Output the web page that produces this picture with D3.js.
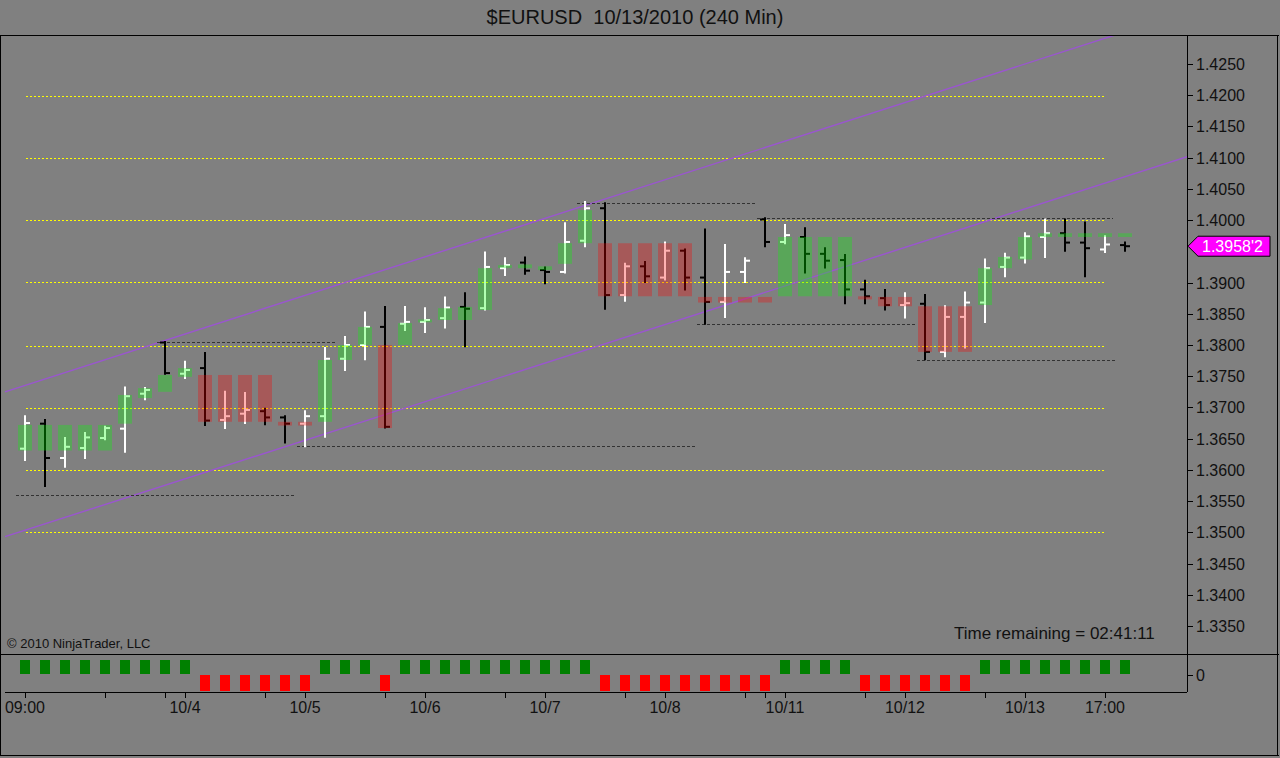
<!DOCTYPE html>
<html><head><meta charset="utf-8">
<script src="https://cdn.jsdelivr.net/npm/d3@7/dist/d3.min.js"></script>
<style>
html,body{margin:0;padding:0;background:#808080;}
svg{display:block;}
text{font-family:"Liberation Sans",Arial,sans-serif;}
</style></head>
<body>
<script>
// ---------- DATA ----------
const title = "$EURUSD  10/13/2010 (240 Min)";
const opens  = [1.3634,1.3674,1.3619,1.3635,1.3651,1.3666,1.3722,1.3804,1.3754,1.3763,
                1.3680,1.3690,1.3694,1.3684,1.3674,1.3686,1.3778,1.3800,1.3829,1.3834,
                1.3837,1.3843,1.3861,1.3859,1.3923,1.3932,1.3920,1.3917,1.3967,1.4019,
                1.3880,1.3926,1.3908,1.3951,1.3908,1.3869,1.3917,1.4001,1.3965,1.3973,
                1.3946,1.3936,1.3889,1.3875,1.3864,1.3866,1.3789,1.3845,1.3868,1.3925,
                1.3940,1.3973,1.3979,1.3964,1.3953,1.3960];
const highs  = [1.3686,1.3680,1.3651,1.3659,1.3669,1.3732,1.3731,1.3805,1.3773,1.3787,
                1.3725,1.3723,1.3698,1.3686,1.3694,1.3795,1.3813,1.3852,1.3861,1.3861,
                1.3859,1.3876,1.3883,1.3948,1.3939,1.3940,1.3924,1.3995,1.4029,1.4027,
                1.3930,1.3933,1.3964,1.3953,1.3985,1.3960,1.3939,1.4003,1.3992,1.3987,
                1.3955,1.3944,1.3903,1.3888,1.3883,1.3880,1.3862,1.3884,1.3937,1.3946,
                1.3979,1.4001,1.4001,1.3996,1.3974,1.3964];
const lows   = [1.3616,1.3574,1.3605,1.3619,1.3649,1.3629,1.3713,1.3754,1.3747,1.3672,
                1.3667,1.3675,1.3673,1.3644,1.3638,1.3653,1.3760,1.3777,1.3668,1.3824,
                1.3821,1.3828,1.3798,1.3857,1.3912,1.3914,1.3899,1.3916,1.3958,1.3858,
                1.3871,1.3901,1.3905,1.3889,1.3834,1.3845,1.3901,1.3958,1.3963,1.3916,
                1.3924,1.3867,1.3867,1.3857,1.3844,1.3777,1.3782,1.3796,1.3837,1.3910,
                1.3932,1.3941,1.3951,1.3910,1.3949,1.3951];
const closes = [1.3675,1.3619,1.3637,1.3652,1.3667,1.3718,1.3728,1.3755,1.3760,1.3679,
                1.3686,1.3696,1.3684,1.3674,1.3686,1.3778,1.3800,1.3829,1.3669,1.3837,
                1.3840,1.3860,1.3858,1.3925,1.3928,1.3919,1.3917,1.3965,1.4019,1.3880,
                1.3926,1.3910,1.3951,1.3908,1.3869,1.3917,1.3935,1.3965,1.3976,1.3946,
                1.3935,1.3889,1.3878,1.3864,1.3867,1.3789,1.3845,1.3868,1.3923,1.3940,
                1.3974,1.3979,1.3964,1.3955,1.3961,1.39582];
// trend boxes drawn over the bars
const boxTop    = [1.3672,1.3672,1.3672,1.3672,1.3672,1.3720,1.3731,1.3752,1.3763,1.3752,
                   1.3752,1.3752,1.3752,1.3677,1.3677,1.3776,1.3800,1.3829,1.3800,1.3835,
                   1.3841,1.3859,1.3861,1.3923,1.3928,1.3929,1.3926,1.3963,1.4016,1.3963,
                   1.3963,1.3963,1.3963,1.3963,1.3877,1.3877,1.3877,1.3877,1.3973,1.3973,
                   1.3973,1.3973,1.3878,1.3877,1.3877,1.3862,1.3862,1.3862,1.3923,1.3941,
                   1.3973,1.3979,1.3979,1.3979,1.3979,1.3979];
const boxBottom = [1.3631,1.3631,1.3631,1.3631,1.3631,1.3674,1.3715,1.3725,1.3749,1.3677,
                   1.3677,1.3677,1.3677,1.3671,1.3671,1.3677,1.3776,1.3800,1.3667,1.3800,
                   1.3838,1.3840,1.3840,1.3856,1.3924,1.3923,1.3920,1.3930,1.3963,1.3878,
                   1.3878,1.3878,1.3878,1.3878,1.3868,1.3868,1.3868,1.3868,1.3878,1.3878,
                   1.3878,1.3878,1.3873,1.3862,1.3862,1.3789,1.3789,1.3789,1.3864,1.3923,
                   1.3937,1.3973,1.3973,1.3973,1.3973,1.3973];
// lower indicator: +1 up (green) / -1 down (red)
const signal = [1,1,1,1,1,1,1,1,1,-1,-1,-1,-1,-1,-1,1,1,1,-1,1,
                1,1,1,1,1,1,1,1,1,-1,-1,-1,-1,-1,-1,-1,-1,-1,1,1,
                1,1,-1,-1,-1,-1,-1,-1,1,1,1,1,1,1,1,1];
// swing lines: [startIndex, endIndex, price]
const swingLines = [[-0.45,13.5,1.3560],[6.6,15.5,1.3805],[13.6,33.5,1.3638],
                    [27.6,36.5,1.4028],[36.6,54.4,1.4003],[33.6,44.5,1.3833],[44.6,54.5,1.3776]];
// channel lines: [[i0,p0],[i1,p1]]
const channels = [[[-1,1.3725],[60,1.4353]],[[-1,1.3493],[60,1.4121]]];
const gridPrices = [1.35,1.36,1.37,1.38,1.39,1.40,1.41,1.42];
// 1.3950 is hidden behind the last-price tag
const yTickPrices = [1.3350,1.3400,1.3450,1.3500,1.3550,1.3600,1.3650,1.3700,1.3750,1.3800,
                     1.3850,1.3900,1.4000,1.4050,1.4100,1.4150,1.4200,1.4250];
const xLabels = [[0,"09:00"],[8,"10/4"],[14,"10/5"],[20,"10/6"],[26,"10/7"],[32,"10/8"],
                 [38,"10/11"],[44,"10/12"],[50,"10/13"],[54,"17:00"]];
const xMinorTicks = [4,7,12,18,24,30,36,37,42,48];
const lastPriceLabel = "1.3958'2";
const lastPrice = 1.39582;
const copyright = "© 2010 NinjaTrader, LLC";
const timeRemaining = "Time remaining = 02:41:11";

// ---------- LAYOUT ----------
const W = 1280, H = 758;
const axisX = 1187, panelTop = 35, panelBottom = 654, indBottom = 692;
const svg = d3.select("body").append("svg").attr("width", W).attr("height", H);
svg.append("rect").attr("width", W).attr("height", H).attr("fill", "#808080");

const x = d3.scaleLinear().domain([0, 55]).range([25, 1125]);
const y = d3.scaleLinear().domain([1.3350, 1.4250]).range([626, 64]);
const yi = d3.scaleLinear().domain([-1, 1]).range([690, 660]);

svg.append("text").attr("x", 635).attr("y", 24).attr("text-anchor", "middle")
  .attr("font-size", 20).attr("fill", "#111").attr("xml:space","preserve").text(title);

svg.append("defs").append("clipPath").attr("id", "pclip").append("rect")
  .attr("x", 1).attr("y", panelTop + 1).attr("width", axisX - 1).attr("height", panelBottom - panelTop - 1);

const plot = svg.append("g").attr("clip-path", "url(#pclip)");

// grid (snapped to even pixel rows so the yellow dots keep their colour)
const gridRow = d => 2 * Math.round(y(d) / 2) + 0.5;
plot.selectAll(".grid").data(gridPrices).join("line")
  .attr("x1", 26).attr("x2", 1106).attr("y1", gridRow).attr("y2", gridRow)
  .attr("stroke", "#ffff00").attr("stroke-width", 1).attr("stroke-dasharray", "2,2")
  .attr("shape-rendering", "crispEdges");

// channel lines
plot.selectAll(".chan").data(channels).join("line")
  .attr("x1", d => x(d[0][0])).attr("y1", d => y(d[0][1]))
  .attr("x2", d => x(d[1][0])).attr("y2", d => y(d[1][1]))
  .attr("stroke", "#9a55d0").attr("stroke-width", 1.4);

// swing lines
plot.selectAll(".swing").data(swingLines).join("line")
  .attr("x1", d => x(d[0])).attr("x2", d => x(d[1]))
  .attr("y1", d => Math.round(y(d[2])) + 0.5).attr("y2", d => Math.round(y(d[2])) + 0.5)
  .attr("stroke", "#333").attr("stroke-width", 1).attr("stroke-dasharray", "3,2")
  .attr("shape-rendering", "crispEdges");

// OHLC bars
const idx = d3.range(opens.length);
const bars = plot.selectAll(".bar").data(idx).join("g");
const barColor = i => closes[i] >= opens[i] ? "#ffffff" : "#000000";
bars.append("line").attr("x1", i => x(i)).attr("x2", i => x(i))
  .attr("y1", i => y(highs[i]) - 1).attr("y2", i => y(lows[i]) + 1)
  .attr("stroke", barColor).attr("stroke-width", 2);
bars.append("line").attr("x1", i => x(i) - 5).attr("x2", i => x(i))
  .attr("y1", i => y(opens[i])).attr("y2", i => y(opens[i]))
  .attr("stroke", barColor).attr("stroke-width", 2);
bars.append("line").attr("x1", i => x(i)).attr("x2", i => x(i) + 5)
  .attr("y1", i => y(closes[i])).attr("y2", i => y(closes[i]))
  .attr("stroke", barColor).attr("stroke-width", 2);

// boxes over bars
plot.selectAll(".box").data(idx).join("rect")
  .attr("x", i => x(i) - 7).attr("width", 14)
  .attr("y", i => y(boxTop[i]))
  .attr("height", i => Math.max(3, y(boxBottom[i]) - y(boxTop[i])))
  .attr("fill", i => signal[i] > 0 ? "#00ff00" : "#ff0000")
  .attr("fill-opacity", 0.3);

// indicator panel
svg.selectAll(".ind").data(idx).join("rect")
  .attr("x", i => x(i) - 5).attr("width", 10)
  .attr("y", i => signal[i] > 0 ? yi(signal[i]) : yi(0))
  .attr("height", i => signal[i] > 0 ? yi(0) - yi(signal[i]) - 1 : yi(signal[i]) - yi(0) + 1)
  .attr("fill", i => signal[i] > 0 ? "#008000" : "#ff0000");

// frame lines
const frame = svg.append("g").attr("stroke", "#000").attr("stroke-width", 1).attr("shape-rendering", "crispEdges");
frame.append("line").attr("x1", 0).attr("x2", W - 1).attr("y1", panelTop + 0.5).attr("y2", panelTop + 0.5);
frame.append("line").attr("x1", 0).attr("x2", W - 1).attr("y1", panelBottom + 0.5).attr("y2", panelBottom + 0.5);
frame.append("line").attr("x1", 5).attr("x2", axisX).attr("y1", indBottom + 0.5).attr("y2", indBottom + 0.5);
frame.append("line").attr("x1", 0).attr("x2", W - 1).attr("y1", H - 2.5).attr("y2", H - 2.5);
frame.append("line").attr("x1", 0.5).attr("x2", 0.5).attr("y1", panelTop).attr("y2", H - 2);
frame.append("line").attr("x1", W - 2.5).attr("x2", W - 2.5).attr("y1", panelTop).attr("y2", H - 2);
frame.append("line").attr("x1", axisX + 0.5).attr("x2", axisX + 0.5).attr("y1", panelTop).attr("y2", indBottom);

// y axis ticks & labels
const yAxis = svg.append("g");
yAxis.selectAll("line").data(yTickPrices).join("line")
  .attr("x1", axisX).attr("x2", axisX + 6)
  .attr("y1", d => Math.round(y(d)) + 0.5).attr("y2", d => Math.round(y(d)) + 0.5)
  .attr("stroke", "#000").attr("shape-rendering", "crispEdges");
yAxis.selectAll("text").data(yTickPrices).join("text")
  .attr("x", axisX + 9).attr("y", d => y(d) + 6)
  .attr("font-size", 16).attr("fill", "#111").text(d => d3.format(".4f")(d));
// indicator axis
svg.append("line").attr("x1", axisX).attr("x2", axisX + 6).attr("y1", yi(0) + 0.5).attr("y2", yi(0) + 0.5)
  .attr("stroke", "#000").attr("shape-rendering", "crispEdges");
svg.append("text").attr("x", axisX + 9).attr("y", yi(0) + 6).attr("font-size", 16).attr("fill", "#111").text("0");

// last price tag
const ly = y(lastPrice);
svg.append("path")
  .attr("d", `M${axisX + 1},${ly} L${axisX + 11},${ly - 10} L${axisX + 83},${ly - 10} L${axisX + 83},${ly + 10} L${axisX + 11},${ly + 10} Z`)
  .attr("fill", "#ff00ff").attr("stroke", "#000").attr("stroke-width", 1);
svg.append("text").attr("x", axisX + 15).attr("y", ly + 6).attr("font-size", 16).attr("fill", "#fff").text(lastPriceLabel);

// x axis
const xAxis = svg.append("g");
const allTicks = xLabels.map(d => d[0]).concat(xMinorTicks);
xAxis.selectAll("line").data(allTicks).join("line")
  .attr("x1", d => Math.round(x(d)) + 0.5).attr("x2", d => Math.round(x(d)) + 0.5)
  .attr("y1", indBottom).attr("y2", indBottom + 6)
  .attr("stroke", "#000").attr("shape-rendering", "crispEdges");
xAxis.selectAll("text").data(xLabels).join("text")
  .attr("x", d => x(d[0])).attr("y", 713).attr("text-anchor", "middle")
  .attr("font-size", 16).attr("fill", "#111").text(d => d[1]);

// annotations
svg.append("text").attr("x", 7).attr("y", 648).attr("font-size", 13).attr("fill", "#111").text(copyright);
svg.append("text").attr("x", 954).attr("y", 639).attr("font-size", 17).attr("fill", "#111").text(timeRemaining);
</script>
</body></html>
